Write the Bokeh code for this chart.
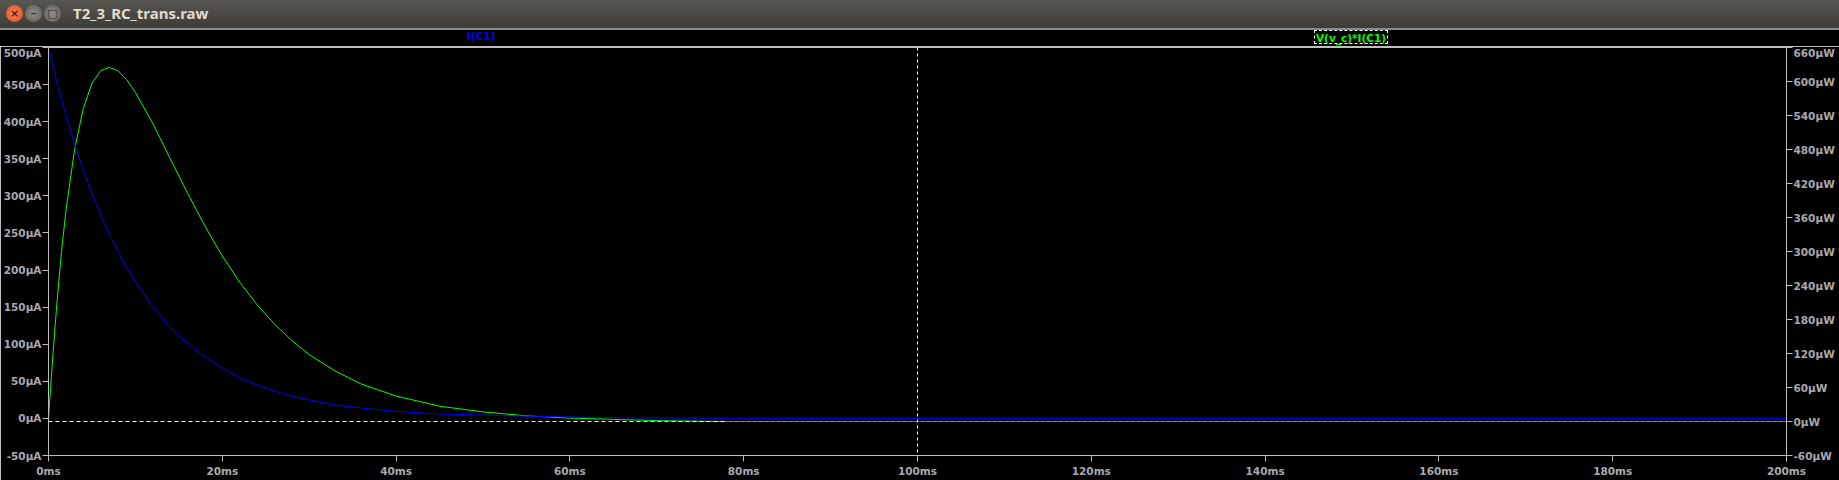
from bokeh.plotting import figure
from bokeh.models import (Range1d, LinearAxis, FixedTicker, PrintfTickFormatter,
                          Span, Div)
from bokeh.layouts import column
from bokeh.embed import file_html
from bokeh.resources import INLINE

window_title = "T2_3_RC_trans.raw"
trace_names = ["I(C1)", "V(v_c)*I(C1)"]
trace_label_ms = [50, 150]
time_ms = [0, 0.02, 0.5, 1, 1.5, 2, 3, 4, 5, 6, 7, 8, 9, 10, 12, 14, 16, 18, 20,
           22, 24, 26, 28, 30, 33, 36, 40, 45, 50, 55, 60, 65, 70, 78, 90, 120,
           160, 200]
i_c1_uA = [0, 499, 476, 452, 430, 409, 370, 335, 303, 274, 248, 225, 203, 184,
           151, 123, 101, 83, 68, 55, 45, 37, 30, 25, 18, 14, 9.5, 6, 4.5, 3, 2,
           1, 0.5, 0.2, 0, 0, 0, 0]
p_uW = [0, 10, 116, 215, 300, 371, 480, 552, 597, 619, 625, 619, 603, 581, 526,
        464, 403, 345, 292, 246, 206, 172, 143, 118, 89, 66, 45, 27, 17, 10, 6,
        3.8, 1.5, 0, 0, 0, 0, 0]
x_ticks = [0, 20, 40, 60, 80, 100, 120, 140, 160, 180, 200]
left_ticks = [-50, 0, 50, 100, 150, 200, 250, 300, 350, 400, 450, 500]
right_ticks = [-60, 0, 60, 120, 180, 240, 300, 360, 420, 480, 540, 600, 660]
cursor_ms = 100

W = 1839
HEADER_H = 46
BORDER_L, BORDER_R = 46, 53
FRAME_W = W - BORDER_L - BORDER_R

GREY_LINE = "#bdbdbd"
GREY_TEXT = "#a9a9ad"
FONT = "DejaVu Sans"
FSIZE = "10.5px"

p = figure(width=W, height=480 - HEADER_H, output_backend="svg",
           toolbar_location=None,
           x_range=Range1d(x_ticks[0], x_ticks[-1]),
           y_range=Range1d(left_ticks[0], left_ticks[-1]),
           min_border_left=BORDER_L, min_border_right=BORDER_R,
           min_border_top=1, min_border_bottom=25)
p.extra_y_ranges = {"pw": Range1d(right_ticks[0], right_ticks[-1])}
p.background_fill_color = "black"
p.border_fill_color = "black"
p.outline_line_color = GREY_LINE
p.xgrid.visible = False
p.ygrid.visible = False

def style_axis(ax, standoff):
    ax.axis_line_color = GREY_LINE
    ax.major_tick_line_color = GREY_LINE
    ax.major_tick_out = 6
    ax.major_tick_in = 0
    ax.minor_tick_out = 0
    ax.minor_tick_in = 0
    ax.major_label_text_color = GREY_TEXT
    ax.major_label_text_font = FONT
    ax.major_label_text_font_size = FSIZE
    ax.major_label_text_font_style = "bold"
    ax.major_label_standoff = standoff

p.xaxis.ticker = FixedTicker(ticks=x_ticks)
p.xaxis.formatter = PrintfTickFormatter(format="%dms")
style_axis(p.xaxis[0], 3)
p.yaxis.ticker = FixedTicker(ticks=left_ticks)
p.yaxis.formatter = PrintfTickFormatter(format="%d\u00b5A")
style_axis(p.yaxis[0], 1)

rax = LinearAxis(y_range_name="pw", ticker=FixedTicker(ticks=right_ticks),
                 formatter=PrintfTickFormatter(format="%d\u00b5W"))
style_axis(rax, 1)
p.add_layout(rax, "right")

# traces
p.line(time_ms, p_uW, y_range_name="pw", line_color="#00ff00", line_width=1)
p.line(time_ms, i_c1_uA, line_color="#0000ff", line_width=1)

# zero line of the power axis (XOR-looking where it overlaps the green trace)
t_flat = next(t for t, v in zip(time_ms[10:], p_uW[10:]) if v == 0)
p.line([time_ms[0], t_flat], [0, 0], y_range_name="pw", line_color="white",
       line_dash="4 3", line_width=1)
p.line([t_flat, time_ms[-1]], [0, 0], y_range_name="pw", line_color="#ff00ff",
       line_dash="3 3", line_width=1)

# vertical dashed marker
p.add_layout(Span(location=cursor_ms, dimension="height", line_color="white",
                  line_dash="3 3", line_width=1))

# ---- window header: title bar + trace-name row ----
def frame_x(t):
    return BORDER_L + (t - x_ticks[0]) / (x_ticks[-1] - x_ticks[0]) * FRAME_W

btn = ("position:absolute;top:5px;width:17px;height:17px;border-radius:50%;"
       "font:bold 11px 'DejaVu Sans';line-height:17px;text-align:center;")
lbl = ("position:absolute;top:30px;height:16px;line-height:16px;"
       f"transform:translateX(-50%);font:bold {FSIZE} '{FONT}';white-space:nowrap;")
header_html = (
    f'<div style="position:relative;width:{W}px;height:{HEADER_H}px;background:#000;'
    'overflow:hidden;">'
    '<div style="position:absolute;left:0;top:0;width:100%;height:28px;'
    'background:linear-gradient(#58564f,#3d3c38);"></div>'
    '<div style="position:absolute;left:0;top:28px;width:100%;height:2px;'
    'background:#8c8c8c;"></div>'
    f'<span style="{btn}left:6px;background:radial-gradient(#f6875c,#de4a1b);color:#4e1606;">&#215;</span>'
    f'<span style="{btn}left:25px;background:radial-gradient(#8f8d87,#5f5d58);color:#35342f;">&#8211;</span>'
    f'<span style="{btn}left:44px;background:radial-gradient(#8f8d87,#5f5d58);color:#35342f;">&#9633;</span>'
    '<span style="position:absolute;left:73px;top:3px;line-height:20px;color:#dfdbd2;'
    f"font:bold 15px 'Noto Sans';\">{window_title}</span>"
    f'<span style="{lbl}left:{frame_x(trace_label_ms[0]):.0f}px;color:#0000ff;">{trace_names[0]}</span>'
    f'<span style="{lbl}left:{frame_x(trace_label_ms[1]):.0f}px;color:#00ff00;'
    'height:14px;line-height:14px;top:30px;border:1px dashed #ffffff;padding:0 1px;">'
    f'{trace_names[1]}</span>'
    '</div>')
header = Div(text=header_html, width=W, height=HEADER_H, margin=(0, 0, 0, 0))

layout = column(header, p, spacing=0)
open("out.html", "w").write(file_html(layout, INLINE))
